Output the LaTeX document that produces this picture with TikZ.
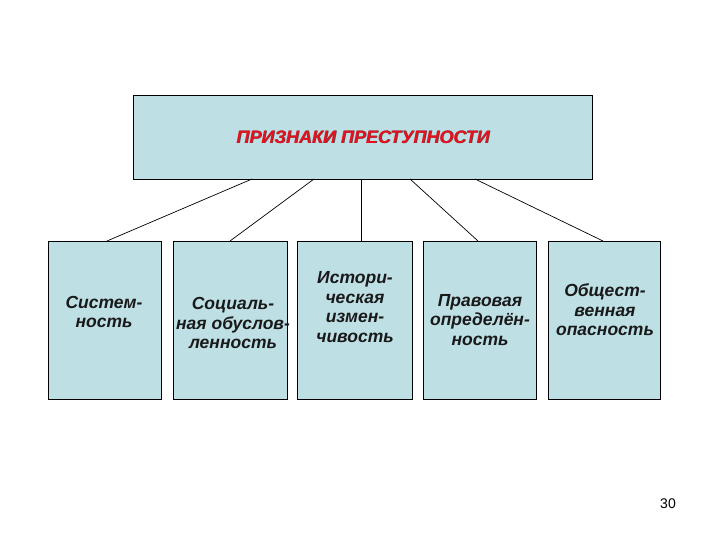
\documentclass[tikz,border=0pt]{standalone}
\usepackage{fontspec}
\setmainfont{Liberation Sans}
\definecolor{boxfill}{HTML}{BEE0E5}
\definecolor{titlered}{HTML}{E8101E}
\begin{document}
\begin{tikzpicture}[x=1pt,y=-1pt,
  box/.style={draw=black,line width=0.9pt,fill=boxfill,minimum height=158pt,minimum width=113pt,inner sep=0pt,anchor=north west},
  lbl/.style={align=center,font=\fontsize{17.5}{19.5}\selectfont\bfseries\itshape,text=black!90},
  link/.style={draw=black,line width=0.7pt}]
\useasboundingbox (0,0) rectangle (720,540);
\node[draw=black,line width=0.9pt,fill=boxfill,minimum width=459pt,minimum height=84pt,anchor=north west,inner sep=0pt] (top) at (133,95) {};
\node[font=\fontsize{18}{20}\selectfont\bfseries\itshape,text=black!70] at (363.8,137.8) {ПРИЗНАКИ ПРЕСТУПНОСТИ};
\node[font=\fontsize{18}{20}\selectfont\bfseries\itshape,text=titlered] (title) at (363,137) {ПРИЗНАКИ ПРЕСТУПНОСТИ};
\node[box] (b1) at (48,241) {};
\node[box,minimum width=114pt] (b2) at (173,241) {};
\node[box,minimum width=115pt] (b3) at (297,241) {};
\node[box] (b4) at (423,241) {};
\node[box,minimum width=112pt] (b5) at (548,241) {};
\node[lbl] at (104,312) {Систем-\\ность};
\node[lbl] at (233,323) {Социаль-\\ная обуслов-\\ленность};
\node[lbl] at (355,307) {Истори-\\ческая\\измен-\\чивость};
\node[lbl] at (480,320) {Правовая\\определён-\\ность};
\node[lbl] at (605,310) {Общест-\\венная\\опасность};
\coordinate (t1) at (252,179); \coordinate (t2) at (314,179); \coordinate (t3) at (361,179);
\coordinate (t4) at (410,179); \coordinate (t5) at (475,179);
\draw[link] (t1) -- (b1.north west -| 107,0);
\draw[link] (t2) -- (b2.north west -| 230,0);
\draw[link] (t3) -- (b3.north west -| 361,0);
\draw[link] (t4) -- (b4.north west -| 478,0);
\draw[link] (t5) -- (b5.north west -| 603,0);
\node[font=\fontsize{14}{16}\selectfont] (pg) at (668,504) {30};
\end{tikzpicture}
\end{document}
